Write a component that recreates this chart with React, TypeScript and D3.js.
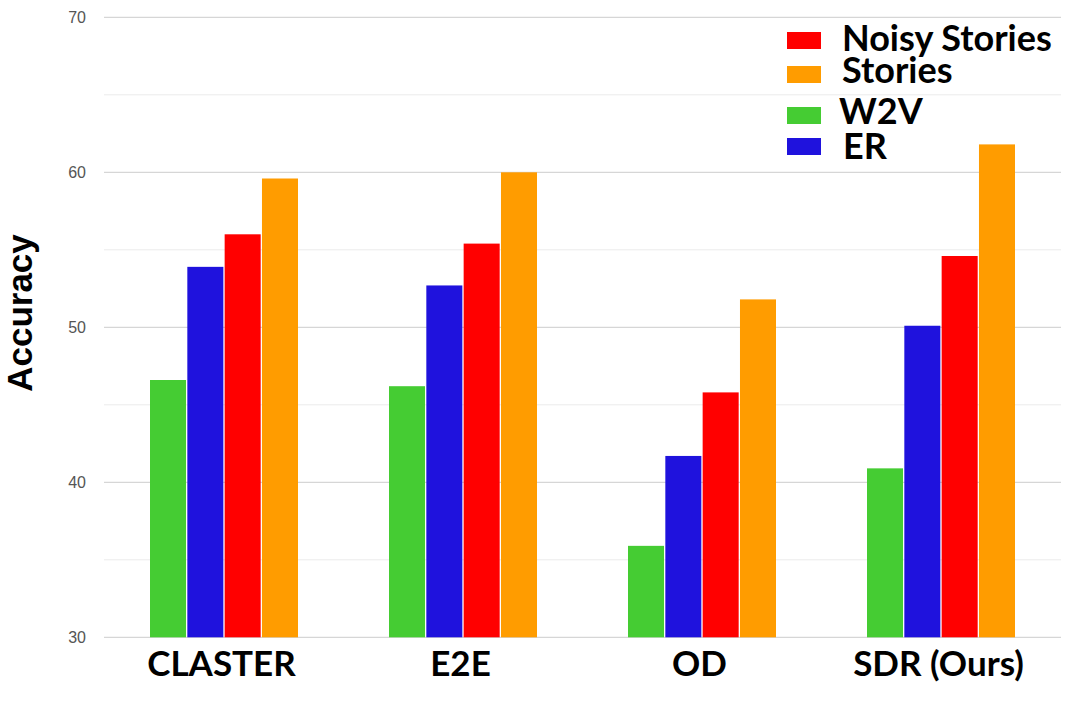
import React from 'react';
import * as d3 from 'd3';

// data
const categories = ['CLASTER', 'E2E', 'OD', 'SDR (Ours)'];
const seriesNames = ['W2V', 'ER', 'Noisy Stories', 'Stories'];
const w2v = [46.6, 46.2, 35.9, 40.9];
const er = [53.9, 52.7, 41.7, 50.1];
const noisyStories = [56.0, 55.4, 45.8, 54.6];
const stories = [59.6, 60.0, 51.8, 61.8];
const majorTicks = [30, 40, 50, 60, 70];
const minorTicks = [35, 45, 55, 65];
const legendOrder = ['Noisy Stories', 'Stories', 'W2V', 'ER'];

const seriesValues: Record<string, number[]> = {
    'W2V': w2v,
    'ER': er,
    'Noisy Stories': noisyStories,
    'Stories': stories,
};

const colors: Record<string, string> = {
    'W2V': '#45cc33',
    'ER': '#1f12dd',
    'Noisy Stories': '#ff0000',
    'Stories': '#ff9c00',
};

const width = 1086;
const height = 708;
const plot = { left: 104, right: 1060, top: 17.3, bottom: 637.3 };
const boldFont = 'Lato, "Open Sans", sans-serif';

// legend row layout (y of swatch top, x of text)
const legendRows = [
    { y: 32, textX: 842, base: 50.5 },
    { y: 66, textX: 842, base: 83 },
    { y: 107, textX: 839, base: 123.5 },
    { y: 138, textX: 843, base: 159 },
];

export default function App() {
    const y = d3.scaleLinear().domain([30, 70]).range([plot.bottom, plot.top]);

    const x0 = d3.scaleBand<string>()
        .domain(categories)
        .range([plot.left, plot.right])
        .padding(0);

    const x1 = d3.scaleBand<string>()
        .domain(seriesNames)
        .range([46, 195.3])
        .padding(0);

    return (
        <svg width={width} height={height} style={{ position: 'absolute', left: 0, top: 0, background: '#fff' }}>
            {/* minor gridlines */}
            {minorTicks.map(t => (
                <line key={'m' + t} x1={plot.left} x2={plot.right + 1} y1={y(t)} y2={y(t)}
                    stroke="#ebebeb" strokeWidth={1} />
            ))}
            {/* major gridlines + labels */}
            {majorTicks.map(t => (
                <g key={'M' + t}>
                    <line x1={plot.left} x2={plot.right + 1} y1={y(t)} y2={y(t)}
                        stroke="#cccccc" strokeWidth={1} />
                    <text x={86} y={y(t)} dy="0.35em" textAnchor="end" fill="#555"
                        style={{ fontFamily: 'Arial, "Liberation Sans", sans-serif', fontSize: 16 }}>
                        {t}
                    </text>
                </g>
            ))}

            {/* bars */}
            {categories.map((c, ci) => (
                <g key={c} transform={`translate(${x0(c)},0)`}>
                    {seriesNames.map(s => {
                        const v = seriesValues[s][ci];
                        return (
                            <rect key={s}
                                x={x1(s)}
                                y={y(v)}
                                width={x1.bandwidth() - 1.3}
                                height={y(30) - y(v)}
                                fill={colors[s]} />
                        );
                    })}
                    <text x={x0.bandwidth() / 2 - 2} y={676} textAnchor="middle"
                        style={{ fontFamily: boldFont, fontWeight: 700, fontSize: 35 }}>
                        {c}
                    </text>
                </g>
            ))}

            {/* y axis title */}
            <text transform="translate(32,313) rotate(-90)" textAnchor="middle"
                style={{ fontFamily: 'Arial, "Liberation Sans", sans-serif', fontWeight: 700, fontSize: 35 }}>
                Accuracy
            </text>

            {/* legend */}
            {legendOrder.map((s, i) => (
                <g key={s}>
                    <rect x={787} y={legendRows[i].y} width={34} height={17} fill={colors[s]} />
                    <text x={legendRows[i].textX} y={legendRows[i].base}
                        style={{ fontFamily: boldFont, fontWeight: 700, fontSize: 36 }}>
                        {s}
                    </text>
                </g>
            ))}
        </svg>
    );
}
